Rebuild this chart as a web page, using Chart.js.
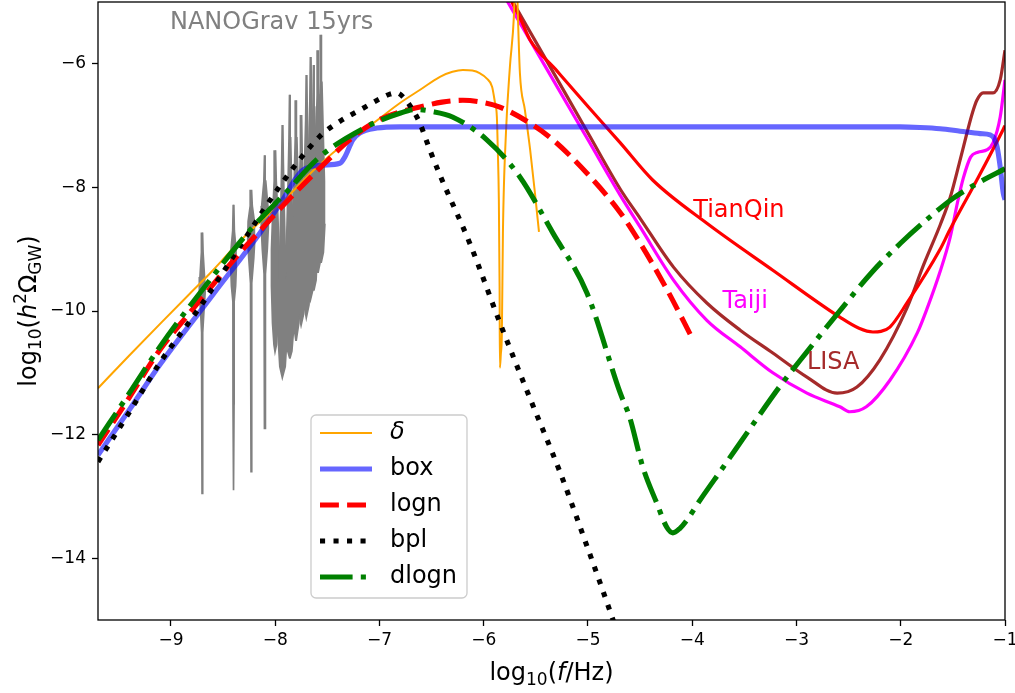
<!DOCTYPE html>
<html>
<head>
<meta charset="utf-8">
<script src="https://cdn.jsdelivr.net/npm/chart.js@4.4.1/dist/chart.umd.min.js"></script>
<style>
  body { margin: 0; background: #fff; }
  canvas { display: block; }
</style>
</head>
<body>
<canvas id="gwChart" width="1015" height="693"></canvas>
<script>
// axis ticks (log10 f, log10 h^2 Omega)
const xTicks = [-9, -8, -7, -6, -5, -4, -3, -2, -1];
const yTicks = [-14, -12, -10, -8, -6];

// delta-function power spectrum
const deltaX = [-9.70, -9.40, -9.10, -8.82, -8.62, -8.40, -8.20, -7.97, -7.60, -7.30, -7.06, -6.80, -6.61, -6.42, -6.30, -6.20, -6.11, -6.04, -5.97, -5.92, -5.895, -5.874, -5.865, -5.855, -5.848, -5.845, -5.836, -5.826, -5.816, -5.787, -5.749, -5.711, -5.69, -5.672, -5.653, -5.605, -5.555, -5.509, -5.47];
const deltaY = [-11.25, -10.72, -10.20, -9.72, -9.38, -8.98, -8.64, -8.30, -7.67, -7.24, -6.96, -6.63, -6.42, -6.21, -6.13, -6.10, -6.11, -6.15, -6.24, -6.37, -6.60, -6.86, -7.40, -8.20, -9.60, -10.92, -10.70, -10.36, -8.74, -7.12, -6.05, -5.24, -4.20, -5.24, -6.15, -6.75, -7.39, -8.09, -8.72];

// box spectrum
const boxX = [-9.70, -9.40, -9.107, -8.60, -8.148, -7.95, -7.735, -7.543, -7.38, -7.333, -7.256, -7.19, -7.026, -6.805, -5.0, -3.0, -2.006, -1.814, -1.622, -1.43, -1.238, -1.142, -1.10, -1.075, -1.046, -1.017, -1.0];
const boxY = [-12.33, -11.60, -10.87, -9.74, -8.74, -8.26, -7.72, -7.64, -7.61, -7.51, -7.23, -7.12, -7.04, -7.02, -7.02, -7.02, -7.02, -7.03, -7.05, -7.09, -7.13, -7.15, -7.22, -7.35, -7.67, -8.09, -8.20];

// lognormal spectrum
const lognX = [-9.70, -9.40, -9.107, -8.82, -8.34, -8.167, -7.85, -7.495, -7.30, -7.064, -6.805, -6.613, -6.40, -6.20, -6.02, -5.845, -5.557, -5.336, -5.01, -4.69, -4.50, -4.24, -4.00];
const lognY = [-12.17, -11.40, -10.63, -10.03, -9.06, -8.74, -8.16, -7.56, -7.25, -6.96, -6.78, -6.70, -6.62, -6.59, -6.62, -6.70, -6.96, -7.23, -7.77, -8.41, -8.90, -9.66, -10.44];

// broken power law
const bplX = [-9.70, -9.40, -9.107, -8.724, -8.34, -7.96, -7.576, -7.38, -7.19, -7.00, -6.90, -6.835, -6.76, -6.68, -6.613, -6.52, -6.42, -6.13, -5.845, -5.557, -5.27, -5.00, -4.78, -4.70];
const bplY = [-12.44, -11.64, -10.84, -9.94, -8.96, -7.99, -7.18, -6.93, -6.75, -6.57, -6.49, -6.47, -6.56, -6.75, -6.96, -7.38, -7.80, -8.92, -10.19, -11.41, -12.60, -13.85, -14.90, -15.30];

// double lognormal
const dlognX = [-9.70, -9.40, -9.107, -8.627, -8.24, -7.89, -7.576, -7.125, -6.805, -6.65, -6.50, -6.30, -5.97, -5.653, -5.336, -5.01, -4.69, -4.60, -4.475, -4.34, -4.244, -4.186, -4.12, -4.05, -3.925, -3.70, -3.445, -3.16, -2.90, -2.61, -2.27, -2.00, -1.75, -1.50, -1.25, -1.00];
const dlognY = [-12.09, -11.33, -10.58, -9.50, -8.69, -8.07, -7.51, -7.02, -6.80, -6.74, -6.77, -6.86, -7.23, -7.83, -8.74, -9.71, -11.33, -11.72, -12.52, -13.11, -13.50, -13.59, -13.52, -13.38, -13.06, -12.52, -11.90, -11.22, -10.66, -10.05, -9.36, -8.90, -8.52, -8.18, -7.92, -7.70];

// space detector sensitivity curves
const tianqinX = [-5.84, -5.73, -5.64, -5.557, -5.30, -5.00, -4.69, -4.38, -3.86, -3.227, -2.584, -2.40, -2.267, -2.19, -2.104, -1.94, -1.625, -1.53, -1.27, -1.02, -1.0];
const tianqinY = [-4.6, -5.0, -5.30, -5.61, -6.11, -6.69, -7.28, -7.88, -8.58, -9.34, -10.10, -10.28, -10.34, -10.33, -10.26, -9.87, -9.01, -8.69, -7.88, -7.07, -7.00];
const taijiX = [-5.94, -5.77, -5.40, -5.00, -4.69, -4.50, -4.18, -3.86, -3.54, -3.227, -2.90, -2.584, -2.49, -2.33, -2.104, -1.84, -1.745, -1.62, -1.525, -1.45, -1.40, -1.33, -1.26, -1.17, -1.115, -1.046, -1.0];
const taijiY = [-4.5, -5.0, -6.07, -7.23, -8.13, -8.64, -9.50, -10.15, -10.58, -11.0, -11.33, -11.55, -11.63, -11.55, -11.12, -10.35, -9.95, -9.35, -8.80, -8.20, -7.85, -7.51, -7.43, -7.39, -7.28, -6.86, -6.26];
const lisaX = [-5.89, -5.72, -5.40, -5.00, -4.69, -4.50, -4.18, -3.86, -3.54, -3.227, -2.90, -2.61, -2.42, -2.20, -1.94, -1.78, -1.62, -1.525, -1.44, -1.365, -1.31, -1.27, -1.21, -1.115, -1.046, -1.0];
const lisaY = [-4.5, -5.0, -5.94, -7.12, -8.03, -8.50, -9.29, -9.87, -10.31, -10.68, -11.07, -11.33, -11.23, -10.79, -9.95, -9.25, -8.60, -8.16, -7.62, -7.12, -6.78, -6.59, -6.47, -6.47, -6.26, -5.78];

// NANOGrav 15-year free spectrum: bin frequencies and violin outlines [log10 h^2 Omega, half width]
const violinX = [-8.70, -8.40, -8.23, -8.10, -8.00, -7.93, -7.86, -7.80, -7.75, -7.70, -7.66, -7.63, -7.59, -7.56];
const violinShapes = [
  [[-8.73, 0.003], [-9.05, 0.008], [-9.45, 0.022], [-9.70, 0.028], [-9.95, 0.018], [-10.35, 0.006], [-11.5, 0.005], [-12.95, 0.002]],
  [[-8.28, 0.003], [-8.70, 0.008], [-9.00, 0.024], [-9.30, 0.027], [-9.60, 0.020], [-9.85, 0.006], [-11.5, 0.005], [-12.90, 0.002]],
  [[-8.04, 0.003], [-8.30, 0.010], [-8.55, 0.030], [-8.85, 0.034], [-9.15, 0.024], [-9.55, 0.007], [-11.0, 0.005], [-12.60, 0.002]],
  [[-7.48, 0.003], [-7.90, 0.009], [-8.30, 0.030], [-8.65, 0.034], [-9.00, 0.024], [-9.40, 0.007], [-10.5, 0.005], [-11.90, 0.002]],
  [[-7.40, 0.003], [-7.90, 0.010], [-8.40, 0.024], [-9.00, 0.036], [-9.60, 0.036], [-10.2, 0.026], [-10.55, 0.012], [-10.66, 0.002]],
  [[-6.99, 0.003], [-7.60, 0.008], [-8.30, 0.016], [-9.00, 0.026], [-9.80, 0.038], [-10.5, 0.040], [-10.9, 0.026], [-11.08, 0.002]],
  [[-6.50, 0.003], [-7.20, 0.008], [-8.00, 0.018], [-8.80, 0.030], [-9.60, 0.038], [-10.3, 0.036], [-10.65, 0.020], [-10.76, 0.002]],
  [[-6.59, 0.003], [-7.20, 0.008], [-8.00, 0.020], [-8.80, 0.034], [-9.60, 0.036], [-10.2, 0.026], [-10.47, 0.002]],
  [[-6.83, 0.003], [-7.40, 0.008], [-8.10, 0.020], [-8.90, 0.034], [-9.60, 0.034], [-10.05, 0.022], [-10.23, 0.002]],
  [[-6.18, 0.003], [-6.90, 0.008], [-7.70, 0.020], [-8.60, 0.034], [-9.40, 0.036], [-9.90, 0.024], [-10.11, 0.002]],
  [[-5.89, 0.003], [-6.60, 0.008], [-7.50, 0.020], [-8.40, 0.034], [-9.20, 0.036], [-9.65, 0.022], [-9.82, 0.002]],
  [[-6.02, 0.003], [-6.70, 0.008], [-7.50, 0.020], [-8.30, 0.032], [-9.00, 0.036], [-9.50, 0.022], [-9.66, 0.002]],
  [[-5.78, 0.003], [-6.50, 0.008], [-7.30, 0.020], [-8.10, 0.032], [-8.80, 0.036], [-9.20, 0.022], [-9.37, 0.002]],
  [[-5.53, 0.003], [-6.30, 0.008], [-7.10, 0.020], [-7.90, 0.032], [-8.60, 0.036], [-9.05, 0.022], [-9.21, 0.002]]
];

const FONT = '"DejaVu Sans", sans-serif';

function toPoints(xs, ys) {
  return xs.map((x, i) => ({ x, y: ys[i] }));
}

// closed outline: down the left edge, back up the right edge
function violinOutline(xc, shape) {
  const left = shape.map(([y, w]) => ({ x: xc - w, y }));
  const right = shape.slice().reverse().map(([y, w]) => ({ x: xc + w, y }));
  return left.concat(right);
}

function curve(label, xs, ys, color, width, dash, order) {
  return {
    label,
    data: toPoints(xs, ys),
    borderColor: color,
    borderWidth: width,
    borderDash: dash,
    borderCapStyle: 'butt',
    borderJoinStyle: 'round',
    cubicInterpolationMode: 'monotone',
    pointRadius: 0,
    fill: false,
    clip: 0,
    order
  };
}

const datasets = [
  curve('dlogn', dlognX, dlognY, '#008000', 5.1, [32.6, 8.2, 5.1, 8.2], 1),
  curve('bpl', bplX, bplY, '#000000', 5.1, [5.1, 8.4], 2),
  curve('logn', lognX, lognY, '#ff0000', 5.1, [18.9, 8.2], 3),
  curve('box', boxX, boxY, 'rgba(0, 0, 255, 0.6)', 5.1, [], 4),
  curve('δ', deltaX, deltaY, '#ffa500', 2, [], 5),
  curve('TianQin', tianqinX, tianqinY, '#ff0000', 3.2, [], 6),
  curve('Taiji', taijiX, taijiY, '#ff00ff', 3.2, [], 7),
  curve('LISA', lisaX, lisaY, '#a52a2a', 3.2, [], 8)
];

violinX.forEach((xc, i) => {
  datasets.push({
    label: 'NG15 bin ' + (i + 1),
    data: violinOutline(xc, violinShapes[i]),
    borderColor: '#808080',
    backgroundColor: '#808080',
    borderWidth: 1.7,
    pointRadius: 0,
    tension: 0,
    fill: 'shape',
    clip: 0,
    order: 10
  });
});

const legendItems = ['δ', 'box', 'logn', 'bpl', 'dlogn'];

const notes = [
  { text: 'NANOGrav 15yrs', x: -9.01, y: -5.33, color: '#808080', size: 24 },
  { text: 'TianQin', x: -3.99, y: -8.37, color: '#ff0000', size: 24 },
  { text: 'Taiji', x: -3.71, y: -9.85, color: '#ff00ff', size: 24 },
  { text: 'LISA', x: -2.90, y: -10.84, color: '#a52a2a', size: 24 }
];

function fontOf(p) {
  return (p.italic ? 'italic ' : '') + (p.size || 24) + 'px ' + FONT;
}

// draw a run of text pieces (mathtext-like sub/superscripts) centred on x
function drawRich(ctx, parts, x, y) {
  let total = 0;
  parts.forEach(p => { ctx.font = fontOf(p); total += ctx.measureText(p.t).width; });
  let cx = x - total / 2;
  ctx.textAlign = 'left';
  ctx.textBaseline = 'alphabetic';
  parts.forEach(p => {
    ctx.font = fontOf(p);
    ctx.fillText(p.t, cx, y + (p.dy || 0));
    cx += ctx.measureText(p.t).width;
  });
}

const decorations = {
  id: 'decorations',
  afterDatasetsDraw(chart) {
    const { ctx, chartArea: a, scales } = chart;
    ctx.save();

    // free text next to the curves
    notes.forEach(n => {
      ctx.font = n.size + 'px ' + FONT;
      ctx.fillStyle = n.color;
      ctx.textAlign = 'left';
      ctx.textBaseline = 'middle';
      ctx.fillText(n.text, scales.x.getPixelForValue(n.x), scales.y.getPixelForValue(n.y));
    });

    // axes frame
    ctx.strokeStyle = '#000';
    ctx.lineWidth = 1.3;
    ctx.strokeRect(a.left, a.top, a.right - a.left, a.bottom - a.top);

    // legend box
    const lx = 311, ly = 415, lw = 156, lh = 183;
    ctx.beginPath();
    ctx.roundRect(lx, ly, lw, lh, 5);
    ctx.fillStyle = 'rgba(255, 255, 255, 0.8)';
    ctx.fill();
    ctx.strokeStyle = '#cccccc';
    ctx.lineWidth = 1.3;
    ctx.stroke();

    legendItems.forEach((name, i) => {
      const ds = chart.data.datasets.find(d => d.label === name);
      const cy = ly + 18 + i * 36;
      ctx.beginPath();
      ctx.setLineDash(ds.borderDash || []);
      ctx.lineCap = 'butt';
      ctx.strokeStyle = ds.borderColor;
      ctx.lineWidth = ds.borderWidth;
      ctx.moveTo(320, cy);
      ctx.lineTo(372, cy);
      ctx.stroke();
      ctx.setLineDash([]);
      ctx.fillStyle = '#000';
      ctx.font = (name === 'δ' ? 'italic ' : '') + '24px ' + FONT;
      ctx.textAlign = 'left';
      ctx.textBaseline = 'middle';
      ctx.fillText(name, 390, cy);
    });

    // axis titles
    ctx.fillStyle = '#000';
    drawRich(ctx, [
      { t: 'log' }, { t: '10', size: 17, dy: 5 }, { t: '(' },
      { t: 'f', italic: true }, { t: '/Hz)' }
    ], (a.left + a.right) / 2, 680);

    ctx.translate(36, (a.top + a.bottom) / 2);
    ctx.rotate(-Math.PI / 2);
    drawRich(ctx, [
      { t: 'log' }, { t: '10', size: 17, dy: 5 }, { t: '(' },
      { t: 'h', italic: true }, { t: '2', size: 17, dy: -10 }, { t: 'Ω' },
      { t: 'GW', size: 17, dy: 5 }, { t: ')' }
    ], 0, 0);

    ctx.restore();
  }
};

const tickLabel = v => (v < 0 ? '\u2212' : '') + Math.abs(v);

new Chart(document.getElementById('gwChart'), {
  type: 'line',
  data: { datasets },
  options: {
    responsive: false,
    animation: false,
    devicePixelRatio: 1,
    layout: { padding: { top: 2, right: 10, left: 0, bottom: 0 } },
    plugins: {
      legend: { display: false },
      tooltip: { enabled: false }
    },
    scales: {
      x: {
        type: 'linear',
        min: -9.70,
        max: -1,
        afterBuildTicks: s => { s.ticks = xTicks.map(v => ({ value: v })); },
        afterFit: s => { s.height = 73; s.paddingLeft = 0; s.paddingRight = 0; },
        border: { display: false },
        grid: { drawOnChartArea: false, drawTicks: true, tickLength: 6, tickColor: '#000', tickWidth: 1.3 },
        ticks: { callback: tickLabel, color: '#000', font: { family: FONT, size: 17 }, padding: 4, maxRotation: 0, autoSkip: false }
      },
      y: {
        type: 'linear',
        min: -15,
        max: -5,
        afterBuildTicks: s => { s.ticks = yTicks.map(v => ({ value: v })); },
        afterFit: s => { s.width = 98; s.paddingTop = 0; s.paddingBottom = 0; },
        border: { display: false },
        grid: { drawOnChartArea: false, drawTicks: true, tickLength: 6, tickColor: '#000', tickWidth: 1.3 },
        ticks: { callback: tickLabel, color: '#000', font: { family: FONT, size: 17 }, padding: 6, autoSkip: false }
      }
    }
  },
  plugins: [decorations]
});
</script>
</body>
</html>
